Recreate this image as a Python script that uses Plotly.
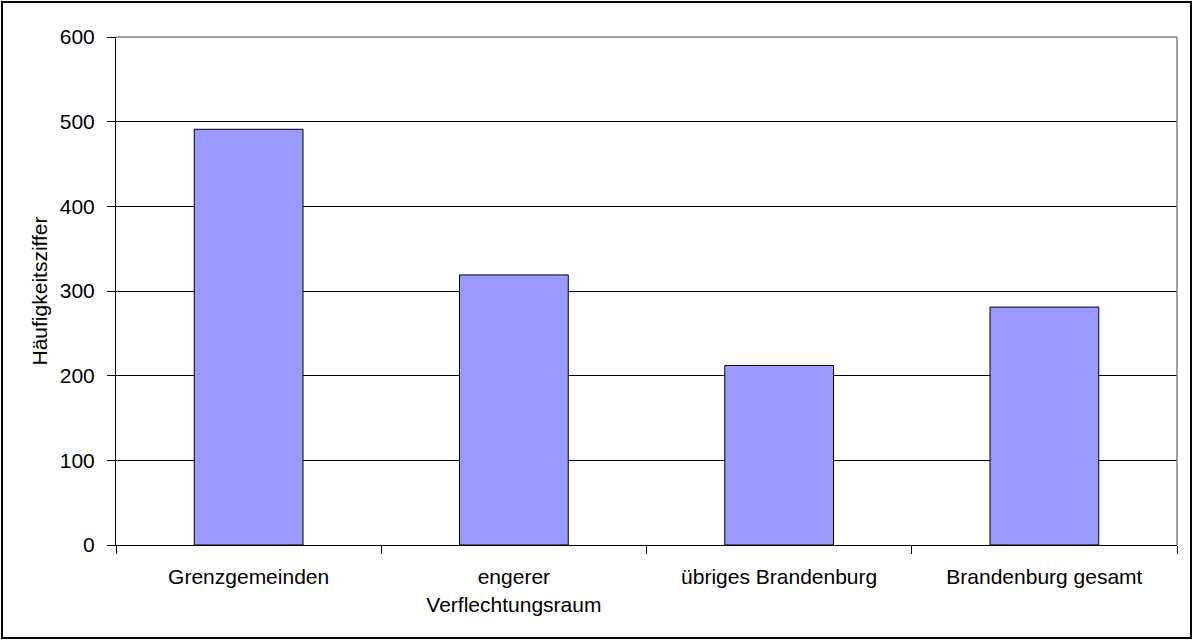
import plotly.graph_objects as go

categories = ["Grenzgemeinden", "engerer<br>Verflechtungsraum", "übriges Brandenburg", "Brandenburg gesamt"]
values = [491, 319, 212, 281]
y_title = "Häufigkeitsziffer"
y_ticks = [0, 100, 200, 300, 400, 500, 600]

W, H = 1193, 640
L, R, T, B = 116, 16, 37, 95
pw, ph = W - L - R, H - T - B

def px_x(x):
    return (x - L) / pw

def px_y(y):
    return (H - B - y) / ph

fig = go.Figure(go.Bar(
    x=categories, y=values,
    marker=dict(color="#9999FF", line=dict(color="black", width=1)),
))

font = dict(family="Liberation Sans, Arial, sans-serif", size=21, color="black")

fig.update_layout(
    width=W, height=H,
    margin=dict(l=L, r=R, t=T, b=B),
    paper_bgcolor="white", plot_bgcolor="white",
    bargap=0.59,
    font=font,
    showlegend=False,
    xaxis=dict(
        type="category", tickson="boundaries", ticks="outside", ticklen=8,
        tickcolor="black", showline=True, linecolor="black", linewidth=1,
        showgrid=False, tickfont=font, ticklabelstandoff=13,
    ),
    yaxis=dict(
        range=[0, 600], tickvals=y_ticks, ticks="outside", ticklen=8,
        tickcolor="black", showline=True, linecolor="black", linewidth=1,
        showgrid=True, gridcolor="black", gridwidth=1, zeroline=False,
        tickfont=font, ticklabelstandoff=8,
        title=dict(text=y_title, font=font, standoff=6),
    ),
    shapes=[
        dict(type="line", xref="paper", yref="paper", x0=0, x1=1, y0=1, y1=1,
             line=dict(color="#808080", width=1.5)),
        dict(type="line", xref="paper", yref="paper", x0=1, x1=1, y0=0, y1=1,
             line=dict(color="#808080", width=1.5)),
        dict(type="rect", xref="paper", yref="paper",
             x0=px_x(2), x1=px_x(W - 2), y0=px_y(2), y1=px_y(H - 2),
             line=dict(color="black", width=2)),
    ],
)

fig.write_html("out.html", config={"displayModeBar": False},
               post_script="document.body.style.margin='0';")
